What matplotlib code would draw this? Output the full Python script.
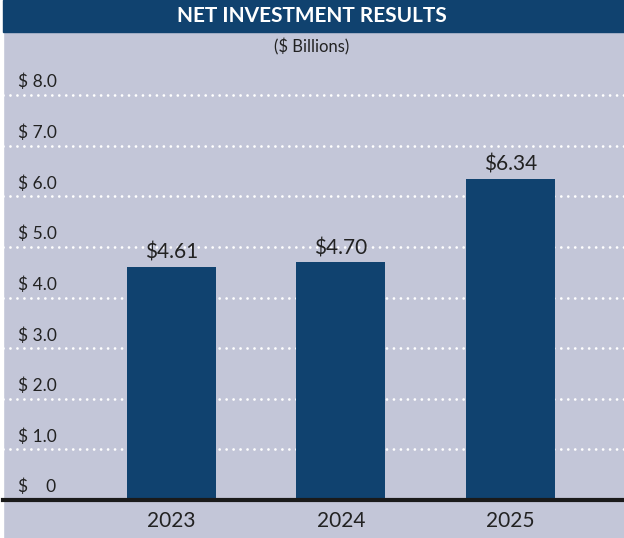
import matplotlib.pyplot as plt
from matplotlib.patches import Rectangle

# chart data
years = ['2023', '2024', '2025']
values = [4.61, 4.70, 6.34]
value_labels = ['$4.61', '$4.70', '$6.34']
grid_values = [1, 2, 3, 4, 5, 6, 7, 8]
tick_texts = ['$    0', '$ 1.0', '$ 2.0', '$ 3.0', '$ 4.0', '$ 5.0', '$ 6.0', '$ 7.0', '$ 8.0']

navy = '#10426f'
bg = '#c3c6d8'
W, H = 624, 538

plt.rcParams['font.family'] = ['Lato', 'DejaVu Sans']

fig = plt.figure(figsize=(W / 100, H / 100), dpi=100)
fig.patch.set_facecolor(bg)

# white strip on the left and navy title bar
fig.add_artist(Rectangle((0, 0), 3 / W, 1, transform=fig.transFigure, color='white', zorder=0))
fig.add_artist(Rectangle((3 / W, 1 - 32 / H), 1, 32 / H, transform=fig.transFigure,
                         color=navy, zorder=1))
fig.text(0.5, 1 - 16 / H, 'NET INVESTMENT RESULTS', color='white', fontsize=15,
         fontweight='bold', ha='center', va='center')
fig.text(0.5, 1 - 47 / H, '($ Billions)', color='#222222', fontsize=12,
         ha='center', va='center')

ymax = 8.6
px_per_unit = 50.625
ax = fig.add_axes([3 / W, 38 / H, 621 / W, ymax * px_per_unit / H])
ax.set_facecolor('none')
ax.set_ylim(0, ymax)
ax.set_xlim(-0.994, 2.67)

for g in grid_values:
    ax.axhline(g, color='white', lw=2, linestyle=(0, (0.01, 2.5)),
               dash_capstyle='round', zorder=1)

x = range(len(years))
ax.bar(x, values, width=0.525, color=navy, zorder=2)
for xi, v, lab in zip(x, values, value_labels):
    ax.text(xi, v + 0.08, lab, ha='center', va='bottom', fontsize=15, color='#222222')

for i, t in enumerate(tick_texts):
    ax.text(15 / 621, i + 0.09, t, transform=ax.get_yaxis_transform(), ha='left',
            va='bottom', fontsize=12.5, color='#222222')

ax.axhline(0, color='#1a1a1a', lw=3, zorder=3, clip_on=False)

ax.set_xticks(list(x))
ax.set_xticklabels(years, fontsize=15, color='#222222')
ax.tick_params(axis='x', length=0, pad=8)
ax.set_yticks([])
for s in ax.spines.values():
    s.set_visible(False)

fig.savefig('out.png', dpi=100, facecolor=fig.get_facecolor())
